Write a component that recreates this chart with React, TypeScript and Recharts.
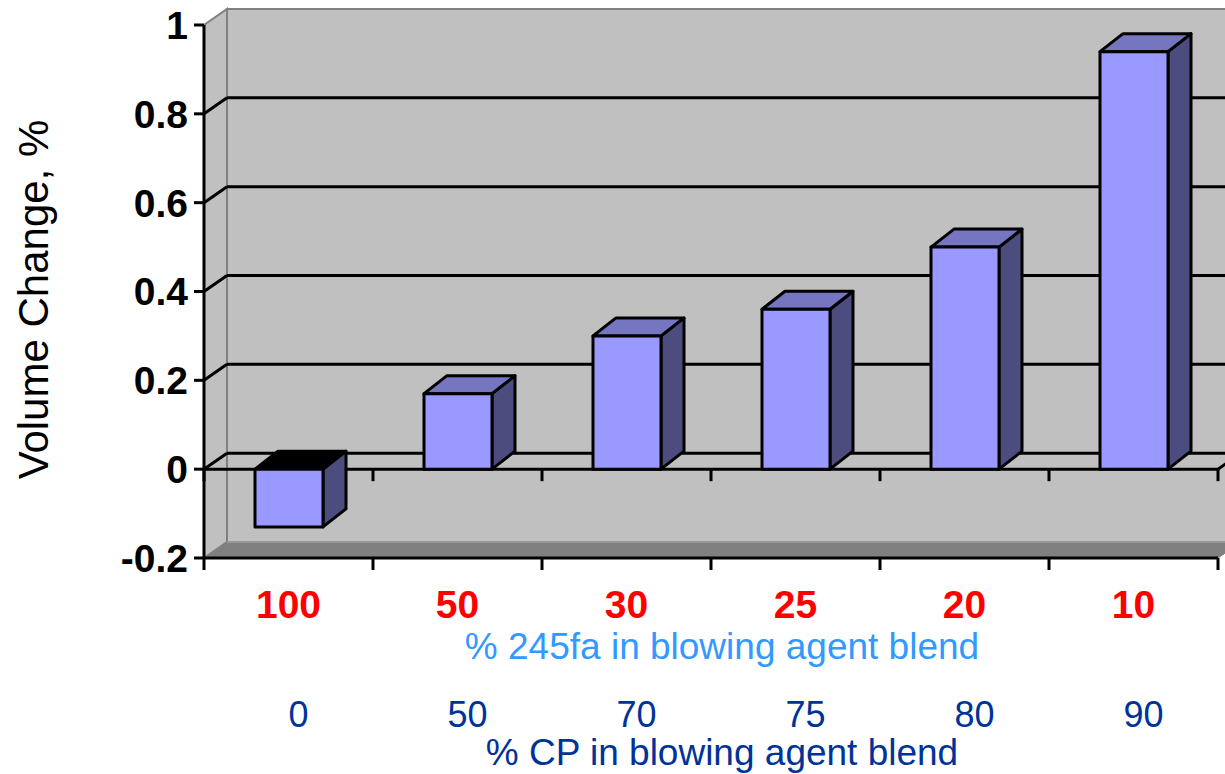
import React from 'react';
import {
  ComposedChart,
  Bar,
  XAxis,
  YAxis,
  ReferenceArea,
  ReferenceLine,
} from 'recharts';

// Blend composition for each foam sample
const hfcShare = ['100', '50', '30', '25', '20', '10'];
const cpShare = ['0', '50', '70', '75', '80', '90'];
// Measured volume change, %
const volumeChange = [-0.13, 0.17, 0.3, 0.36, 0.5, 0.94];

const yTicks = [-0.2, 0, 0.2, 0.4, 0.6, 0.8, 1];
const wallGrid = [0.2, 0.4, 0.6, 0.8];

const data = hfcShare.map((hfc, i) => ({ hfc, cp: cpShare[i], value: volumeChange[i] }));

const FONT = '"Liberation Sans", Arial, Helvetica, sans-serif';

// depth offsets for the pseudo-3D wall and columns
const WALL_DX = 23;
const WALL_DY = -16;
const BAR_DX = 23;
const BAR_DY = -18;
const TICK_LEN = 12;

const Wall = (p: any) => {
  const { x, y, width: w, height: h } = p;
  return (
    <g>
      <polygon
        points={`${x},${y} ${x + WALL_DX},${y + WALL_DY} ${x + WALL_DX},${y + h + WALL_DY} ${x},${y + h}`}
        fill="#C0C0C0"
        stroke="#808080"
        strokeWidth={2}
      />
      <rect x={x + WALL_DX} y={y + WALL_DY} width={w} height={h} fill="#C0C0C0" stroke="#808080" strokeWidth={2} />
      <polygon
        points={`${x},${y + h} ${x + WALL_DX},${y + h + WALL_DY} ${x + w + WALL_DX},${y + h + WALL_DY} ${x + w},${y + h}`}
        fill="#808080"
        stroke="#808080"
        strokeWidth={1}
      />
      <line x1={x + WALL_DX} y1={y + h + WALL_DY} x2={x + w + WALL_DX} y2={y + h + WALL_DY} stroke="#999" strokeWidth={2} />
    </g>
  );
};

const WallGridLine = (p: any) => {
  const left = Math.min(p.x1, p.x2);
  const right = Math.max(p.x1, p.x2);
  const yy = p.y1;
  return (
    <g>
      <line x1={left} y1={yy} x2={left + WALL_DX} y2={yy + WALL_DY} stroke="#000" strokeWidth={3} />
      <line x1={left + WALL_DX} y1={yy + WALL_DY} x2={right + WALL_DX} y2={yy + WALL_DY} stroke="#000" strokeWidth={3} />
    </g>
  );
};

// tick marks at the category band boundaries along a horizontal axis line
const bandEdgeTicks = (left: number, right: number, yy: number) => {
  const n = hfcShare.length;
  const step = (right - left) / n;
  return Array.from({ length: n + 1 }, (_, k) => (
    <line
      key={k}
      x1={left + k * step}
      y1={yy}
      x2={left + k * step}
      y2={yy + TICK_LEN}
      stroke="#000"
      strokeWidth={3}
    />
  ));
};

const ZeroLine = (p: any) => {
  const left = Math.min(p.x1, p.x2);
  const right = Math.max(p.x1, p.x2);
  const yy = p.y1;
  return (
    <g>
      <line x1={left} y1={yy} x2={left + WALL_DX} y2={yy + WALL_DY} stroke="#000" strokeWidth={3} />
      <line x1={left + WALL_DX} y1={yy + WALL_DY} x2={right + WALL_DX} y2={yy + WALL_DY} stroke="#000" strokeWidth={3} />
      <line x1={left} y1={yy} x2={right} y2={yy} stroke="#000" strokeWidth={3} />
      <line x1={right} y1={yy} x2={right + WALL_DX} y2={yy + WALL_DY} stroke="#000" strokeWidth={3} />
      {bandEdgeTicks(left, right, yy)}
    </g>
  );
};

const BottomLine = (p: any) => {
  const left = Math.min(p.x1, p.x2);
  const right = Math.max(p.x1, p.x2);
  return (
    <g>
      <line x1={left} y1={p.y1} x2={right} y2={p.y1} stroke="#000" strokeWidth={3} />
      {bandEdgeTicks(left, right, p.y1)}
    </g>
  );
};

const Column3D = (props: any) => {
  const { x, y, width: w, height } = props;
  if (x == null || y == null || w == null || height == null) return null;
  const top = Math.min(y, y + height);
  const h = Math.abs(height);
  const v = props.payload ? props.payload.value : 0;
  const neg = v < 0;
  return (
    <g strokeLinejoin="round">
      <polygon
        points={`${x + w},${top} ${x + w + BAR_DX},${top + BAR_DY} ${x + w + BAR_DX},${top + h + BAR_DY} ${x + w},${top + h}`}
        fill="#4C4C7E"
        stroke="#000"
        strokeWidth={3}
      />
      <polygon
        points={`${x},${top} ${x + BAR_DX},${top + BAR_DY} ${x + w + BAR_DX},${top + BAR_DY} ${x + w},${top}`}
        fill={neg ? '#000000' : '#7575C0'}
        stroke="#000"
        strokeWidth={3}
      />
      <rect x={x} y={top} width={w} height={h} fill="#9999FF" stroke="#000" strokeWidth={3} />
    </g>
  );
};

const CategoryTick = (props: any) => {
  const { x, y, payload } = props;
  const i = payload && payload.index != null ? payload.index : props.index;
  return (
    <g>
      <text x={x} y={y + 60} textAnchor="middle" fill="#FF0000" fontSize={39} fontWeight="bold" fontFamily={FONT}>
        {payload.value}
      </text>
      <text x={x + 10} y={y + 169} textAnchor="middle" fill="#003399" fontSize={36} fontFamily={FONT}>
        {cpShare[i]}
      </text>
    </g>
  );
};

const XTitles = (props: any) => {
  const vb = props.viewBox || {};
  const cx = vb.x + vb.width / 2 + 11;
  return (
    <g>
      <text x={cx} y={vb.y + 101} textAnchor="middle" fill="#3399FF" fontSize={37} fontFamily={FONT}>
        % 245fa in blowing agent blend
      </text>
      <text x={cx} y={vb.y + 207} textAnchor="middle" fill="#003399" fontSize={37} fontFamily={FONT}>
        % CP in blowing agent blend
      </text>
    </g>
  );
};

const YTitle = (props: any) => {
  const vb = props.viewBox || {};
  const tx = 33;
  const ty = vb.y + vb.height / 2 + 8;
  return (
    <text
      x={tx}
      y={ty}
      transform={`rotate(-90, ${tx}, ${ty})`}
      textAnchor="middle"
      dominantBaseline="central"
      fill="#000"
      fontSize={42}
      fontFamily={FONT}
    >
      Volume Change, %
    </text>
  );
};

export default function App() {
  return (
    <div style={{ position: 'fixed', left: 0, top: 0, width: 1225, height: 774, background: '#fff' }}>
      <ComposedChart width={1225} height={774} data={data} margin={{ top: 25, right: 7, left: 0, bottom: 0 }}>
        <XAxis
          dataKey="hfc"
          interval={0}
          height={216}
          axisLine={false}
          tickLine={false}
          tickSize={0}
          tickMargin={0}
          tick={<CategoryTick />}
          label={{ content: <XTitles /> } as any}
        />
        <YAxis
          width={204}
          domain={[-0.2, 1]}
          ticks={yTicks}
          interval={0}
          allowDataOverflow
          axisLine={{ stroke: '#000', strokeWidth: 3 }}
          tickLine={{ stroke: '#000', strokeWidth: 3 }}
          tickSize={10}
          tickMargin={6}
          tick={{ fill: '#000', fontSize: 39, fontWeight: 'bold', fontFamily: FONT }}
          label={{ content: <YTitle /> } as any}
        />
        <ReferenceArea y1={-0.2} y2={1} shape={<Wall />} zIndex={-90} {...({} as any)} />
        {wallGrid.map((v) => (
          <ReferenceLine key={`g${v}`} y={v} shape={<WallGridLine />} zIndex={-80} {...({} as any)} />
        ))}
        <ReferenceLine y={0} shape={<ZeroLine />} zIndex={-80} {...({} as any)} />
        <Bar dataKey="value" barSize={68} shape={<Column3D />} isAnimationActive={false} />
        <ReferenceLine y={-0.2} shape={<BottomLine />} {...({} as any)} />
      </ComposedChart>
    </div>
  );
}
